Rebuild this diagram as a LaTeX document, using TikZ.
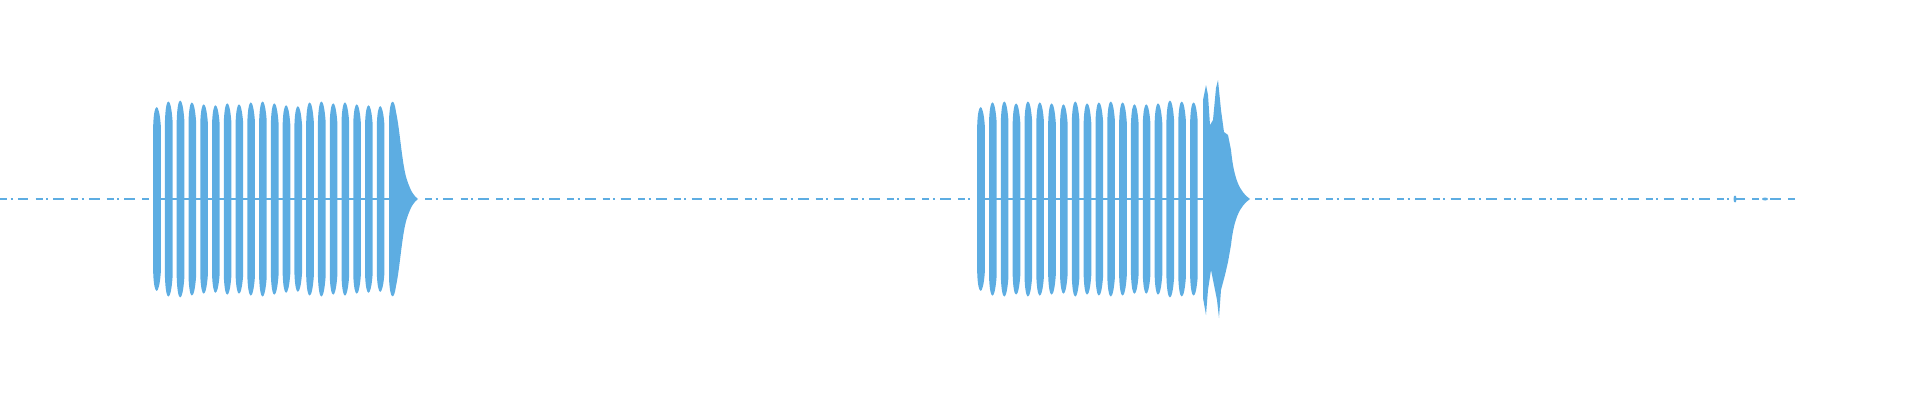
\documentclass[tikz,border=0pt]{standalone}
\definecolor{wave}{HTML}{5DADE2}
\tikzset{pulse/.style={fill=wave,draw=none},base/.style={wave,line width=0.35pt,dash pattern=on 2pt off 1pt on 0.6pt off 1.5pt on 3pt off 2pt}}
\begin{document}
\begin{tikzpicture}[x=0.01cm,y=-0.01cm]
\useasboundingbox (0,0) rectangle (1920,400);
\draw[base] (0,199) -- (150,199);
\draw[base] (425,199) -- (975,199);
\draw[base] (1255,199) -- (1795,199);
\fill[wave] (1735,199) ellipse (1.5 and 3.5);
\fill[wave] (1765,199) ellipse (3 and 1.5);
% burst 1
\fill[wave] (156,198.3) rectangle (392,200);
\foreach \i/\a in {0/98,1/104,2/105,3/103,4/101,5/100,6/102,7/101,8/103,9/104,10/102,11/100,12/99,13/103,14/104,15/102,16/103,17/101,18/100,19/99}{
  \pgfmathsetmacro\xc{157+11.77*\i}
  \fill[pulse] (\xc-3.8,199) -- (\xc-3.8,199-0.75*\a) .. controls (\xc-3,199-\a) and (\xc+2,199-\a) .. (\xc+3.8,199-0.75*\a) -- (\xc+3.8,199+0.75*\a) .. controls (\xc+2,199+\a) and (\xc-3,199+\a) .. (\xc-3.8,199+0.75*\a) -- cycle;
}
\fill[pulse] (389,199) -- (389,120) .. controls (390,97) and (394,97) .. (396,112) .. controls (400,130) and (402,165) .. (407,180) .. controls (411,192) and (414,196) .. (418,199) .. controls (414,202) and (411,206) .. (407,218) .. controls (402,233) and (400,268) .. (396,286) .. controls (394,301) and (390,301) .. (389,278) -- cycle;
% burst 2
\fill[wave] (980,198.3) rectangle (1205,200);
\foreach \i/\a in {0/98,1/103,2/104,3/102,4/104,5/103,6/102,7/101,8/104,9/102,10/103,11/104,12/103,13/101,14/101,15/102,16/105,17/104,18/103}{
  \pgfmathsetmacro\xc{981+11.83*\i}
  \fill[pulse] (\xc-3.8,199) -- (\xc-3.8,199-0.75*\a) .. controls (\xc-3,199-\a) and (\xc+2,199-\a) .. (\xc+3.8,199-0.75*\a) -- (\xc+3.8,199+0.75*\a) .. controls (\xc+2,199+\a) and (\xc-3,199+\a) .. (\xc-3.8,199+0.75*\a) -- cycle;
}
\fill[pulse] (1203,199) -- (1203,100) -- (1206,85) -- (1208,95) -- (1210,125) -- (1213,120) -- (1216,88) -- (1218,80) -- (1221,110) -- (1224,132) -- (1228,135) -- (1231,150) .. controls (1234,180) and (1240,192) .. (1250,199)
 .. controls (1240,206) and (1234,218) .. (1231,245) -- (1228,262) -- (1225,275) -- (1221,290) -- (1219,318) -- (1217,300) -- (1214,285) -- (1211,270) -- (1208,290) -- (1206,315) -- (1203,298) -- cycle;
\end{tikzpicture}
\end{document}
